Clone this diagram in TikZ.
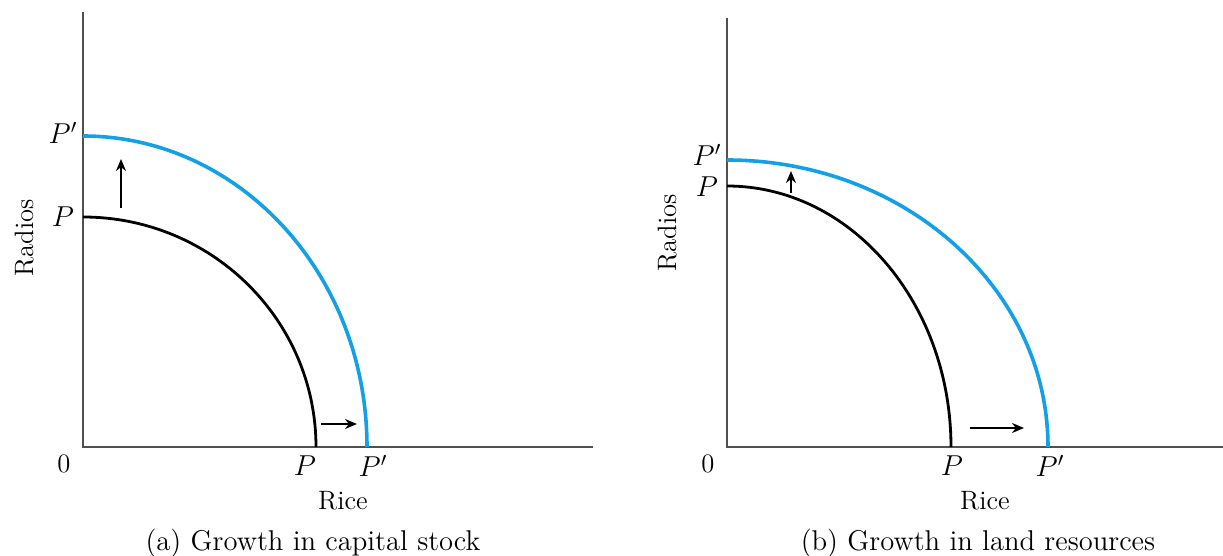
\documentclass[tikz,border=0pt]{standalone}
\usetikzlibrary{arrows.meta}
\definecolor{axisgray}{RGB}{80,80,80}
\definecolor{ppfblue}{RGB}{20,160,230}
\begin{document}
\begin{tikzpicture}[x=0.5pt,y=-0.5pt,
  axisline/.style={draw=axisgray,line width=1.1pt},
  oldppf/.style={draw=black,line width=1.4pt},
  newppf/.style={draw=ppfblue,line width=1.8pt},
  shiftarrow/.style={draw=black,line width=0.9pt,-{Stealth[length=6pt,width=5pt]}},
  lbl/.style={font=\fontsize{13.3}{15}\selectfont,inner sep=0pt},
  caplbl/.style={font=\fontsize{14.3}{16}\selectfont,inner sep=0pt},
  ilbl/.style={font=\fontsize{14}{16}\selectfont\itshape,inner sep=0pt}]
\useasboundingbox (0,0) rectangle (1223,556);
% ---------- panel (a)
\coordinate (aO) at (83,447);
\coordinate (aY) at (83,12);
\coordinate (aX) at (593,447);
\coordinate (aPy) at (83,217);
\coordinate (aPx) at (316,447);
\coordinate (aQy) at (83,136);
\coordinate (aQx) at (367,447);
\coordinate (aU1) at (121,208);
\coordinate (aU2) at (121,159);
\coordinate (aR1) at (321,424);
\coordinate (aR2) at (357,424);
\draw[axisline] (aY) -- (aO) -- (aX);
\draw[oldppf] (aPy) .. controls +(0.5523*233,0) and +(0,-0.5523*230) .. (aPx);
\draw[newppf] (aQy) .. controls +(0.5523*284,0) and +(0,-0.5523*311) .. (aQx);
\draw[shiftarrow] (aU1) -- (aU2);
\draw[shiftarrow] (aR1) -- (aR2);
\node[lbl] (a0) at (64,464) {0};
\node[ilbl] (aPyl) at (63,217) {$P$};
\node[ilbl] (aQyl) at (63,133) {$P'$};
\node[ilbl] (aPxl) at (305,466) {$P$};
\node[ilbl] (aQxl) at (373,466) {$P'$};
\node[lbl,rotate=90] (aYl) at (25,238) {Radios};
\node[lbl] (aXl) at (343,501) {Rice};
\node[caplbl] (acap) at (313,543) {(a) Growth in capital stock};
% ---------- panel (b)
\coordinate (bO) at (727,447);
\coordinate (bY) at (727,18);
\coordinate (bX) at (1223,447);
\coordinate (bPy) at (727,186);
\coordinate (bPx) at (951,447);
\coordinate (bQy) at (727,160);
\coordinate (bQx) at (1048,447);
\coordinate (bU1) at (791,193);
\coordinate (bU2) at (791,171);
\coordinate (bR1) at (970,428);
\coordinate (bR2) at (1024,428);
\draw[axisline] (bY) -- (bO) -- (bX);
\draw[oldppf] (bPy) .. controls +(0.5523*224,0) and +(0,-0.5523*261) .. (bPx);
\draw[newppf] (bQy) .. controls +(0.5523*321,0) and +(0,-0.5523*287) .. (bQx);
\draw[shiftarrow] (bU1) -- (bU2);
\draw[shiftarrow] (bR1) -- (bR2);
\node[lbl] (b0) at (708,464) {0};
\node[ilbl] (bPyl) at (707,187) {$P$};
\node[ilbl] (bQyl) at (707,155) {$P'$};
\node[ilbl] (bPxl) at (952,466) {$P$};
\node[ilbl] (bQxl) at (1050,466) {$P'$};
\node[lbl,rotate=90] (bYl) at (668,233) {Radios};
\node[lbl] (bXl) at (985,501) {Rice};
\node[caplbl] (bcap) at (978,543) {(b) Growth in land resources};
\end{tikzpicture}
\end{document}
